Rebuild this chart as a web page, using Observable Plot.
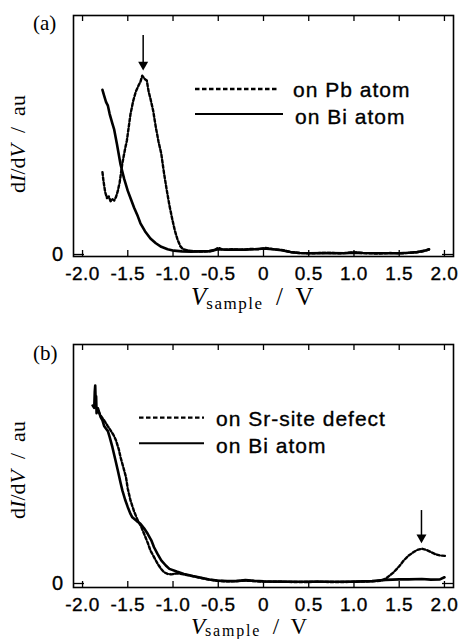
<!DOCTYPE html>
<html>
<head>
<meta charset="utf-8">
<script src="https://cdn.jsdelivr.net/npm/d3@7"></script>
<script src="https://cdn.jsdelivr.net/npm/@observablehq/plot@0.6"></script>
<style>
  html, body { margin: 0; padding: 0; background: #fff; }
  #wrap { position: relative; width: 466px; height: 639px; overflow: hidden; background: #fff; }
  #pa, #pb { position: absolute; left: 0; }
  #pa { top: 0; }
  #pb { top: 320px; }
  #overlay { position: absolute; left: 0; top: 0; pointer-events: none; }
  #pa text, #pb text, #legends text { stroke: #000; stroke-width: 0.35px; }
</style>
</head>
<body>
<div id="wrap">
  <div id="pa"></div>
  <div id="pb"></div>
  <svg id="overlay" width="466" height="639" xmlns="http://www.w3.org/2000/svg">
    <g font-family="'Liberation Serif', 'Times New Roman', serif" fill="#000">
      <text x="33" y="30" font-size="21">(a)</text>
      <text x="33" y="360" font-size="21">(b)</text>
      <text transform="translate(24.5,144) rotate(-90)" text-anchor="middle" font-size="22">d<tspan font-style="italic">I</tspan>/d<tspan font-style="italic">V</tspan>&#160;&#160;/&#160;&#160;au</text>
      <text transform="translate(24.5,470) rotate(-90)" text-anchor="middle" font-size="22">d<tspan font-style="italic">I</tspan>/d<tspan font-style="italic">V</tspan>&#160;&#160;/&#160;&#160;au</text>
      <text x="191" y="305" font-size="25"><tspan font-style="italic">V</tspan><tspan font-size="17" dy="4" letter-spacing="1.5">sample</tspan><tspan dy="-4">&#160;&#160;/&#160;&#160;V</tspan></text>
      <text x="191" y="634" font-size="23"><tspan font-style="italic">V</tspan><tspan font-size="16" dy="2" letter-spacing="1.8">sample</tspan><tspan dy="-2">&#160;&#160;/&#160;&#160;V</tspan></text>
    </g>
    <g id="legends" font-family="'Liberation Sans', Arial, sans-serif" font-size="21" letter-spacing="1" fill="#000"></g>
  </svg>
</div>
<script>
// ---------- data ----------
const xTicks = [-2.0, -1.5, -1.0, -0.5, 0, 0.5, 1.0, 1.5, 2.0];
const yTicks = [0];

const seriesA = ["on Pb atom", "on Bi atom"];
const seriesB = ["on Sr-site defect", "on Bi atom"];

// panel (a): on Pb atom (dashed) [V, dI/dV]
const aPb = [
  [-1.78,3.43],[-1.77,3.10],[-1.75,2.60],[-1.73,2.35],[-1.71,2.42],[-1.69,2.22],[-1.67,2.30],
  [-1.65,2.25],[-1.63,2.40],[-1.61,2.65],[-1.59,3.00],[-1.56,3.80],[-1.53,4.40],[-1.51,4.75],
  [-1.49,5.30],[-1.47,5.85],[-1.44,6.40],[-1.41,6.80],[-1.38,7.05],[-1.36,7.20],[-1.34,7.45],
  [-1.31,7.30],[-1.29,7.25],[-1.27,6.80],[-1.25,6.50],[-1.22,6.00],[-1.19,5.30],[-1.16,4.70],
  [-1.13,4.20],[-1.10,3.40],[-1.07,2.70],[-1.04,2.05],[-1.01,1.50],[-0.98,1.00],[-0.95,0.62],
  [-0.92,0.35],[-0.89,0.22],[-0.85,0.18],[-0.80,0.15],[-0.70,0.12],[-0.60,0.13],[-0.55,0.16],
  [-0.50,0.28],[-0.45,0.20],[-0.35,0.22],[-0.25,0.20],[-0.15,0.23],[-0.05,0.22],[0.02,0.27],
  [0.10,0.23],[0.20,0.19],[0.30,0.10],[0.40,0.06],[0.55,0.05],[0.70,0.07],[0.85,0.05],
  [1.00,0.09],[1.10,0.06],[1.25,0.04],[1.40,0.06],[1.55,0.05],[1.65,0.08],[1.75,0.12],[1.83,0.21]
];
// panel (a): on Bi atom (solid)
const aBi = [
  [-1.78,6.86],[-1.76,6.60],[-1.74,6.35],[-1.72,6.20],[-1.70,5.85],[-1.67,5.45],[-1.65,5.20],
  [-1.62,4.60],[-1.58,3.75],[-1.54,3.15],[-1.50,2.65],[-1.46,2.25],[-1.43,1.95],[-1.39,1.60],
  [-1.36,1.30],[-1.31,0.97],[-1.25,0.67],[-1.19,0.47],[-1.13,0.32],[-1.06,0.22],[-0.99,0.16],
  [-0.90,0.13],[-0.80,0.12],[-0.70,0.13],[-0.60,0.14],[-0.50,0.22],[-0.40,0.20],[-0.30,0.21],
  [-0.20,0.20],[-0.10,0.22],[0.00,0.25],[0.10,0.22],[0.20,0.18],[0.30,0.10],[0.40,0.06],
  [0.50,0.05],[0.70,0.06],[0.90,0.05],[1.00,0.08],[1.10,0.06],[1.30,0.05],[1.50,0.05],
  [1.60,0.07],[1.70,0.10],[1.80,0.18],[1.83,0.22]
];
// panel (b): on Sr-site defect (dashed)
const bSr = [
  [-1.89,7.42],[-1.87,7.30],[-1.85,7.35],[-1.83,7.20],[-1.80,7.00],[-1.76,6.79],[-1.72,6.55],
  [-1.69,6.38],[-1.66,6.20],[-1.63,5.96],[-1.60,5.60],[-1.58,5.26],[-1.55,4.85],[-1.52,4.43],
  [-1.50,3.95],[-1.47,3.46],[-1.43,3.00],[-1.39,2.63],[-1.35,2.35],[-1.32,2.07],[-1.28,1.70],
  [-1.25,1.38],[-1.21,1.10],[-1.17,0.82],[-1.13,0.60],[-1.10,0.47],[-1.06,0.40],[-1.02,0.38],
  [-0.96,0.42],[-0.88,0.38],[-0.78,0.30],[-0.69,0.23],[-0.60,0.16],[-0.50,0.11],[-0.40,0.09],
  [-0.30,0.10],[-0.20,0.12],[-0.10,0.10],[0.00,0.08],[0.20,0.07],[0.40,0.06],[0.60,0.07],
  [0.80,0.06],[1.00,0.07],[1.20,0.09],[1.30,0.12],[1.35,0.20],[1.40,0.35],[1.44,0.47],
  [1.50,0.72],[1.55,0.96],[1.60,1.15],[1.66,1.31],[1.70,1.40],[1.75,1.45],[1.80,1.40],
  [1.85,1.31],[1.90,1.22],[1.95,1.17],[2.01,1.15]
];
// panel (b): on Bi atom (solid)
const bBi = [
  [-1.87,7.40],[-1.865,8.00],[-1.86,8.25],[-1.855,7.60],[-1.85,7.80],[-1.845,7.10],[-1.83,7.30],
  [-1.80,6.93],[-1.78,6.80],[-1.76,6.55],[-1.72,6.35],[-1.70,6.10],[-1.67,5.68],[-1.64,5.20],
  [-1.61,4.71],[-1.58,4.20],[-1.56,3.88],[-1.53,3.50],[-1.50,3.18],[-1.47,2.90],[-1.45,2.76],
  [-1.40,2.60],[-1.36,2.49],[-1.32,2.30],[-1.28,2.07],[-1.24,1.80],[-1.21,1.51],[-1.17,1.22],
  [-1.13,0.96],[-1.08,0.75],[-1.04,0.61],[-0.96,0.50],[-0.88,0.40],[-0.78,0.31],[-0.69,0.24],
  [-0.60,0.17],[-0.51,0.12],[-0.40,0.10],[-0.30,0.10],[-0.20,0.14],[-0.10,0.11],[0.00,0.09],
  [0.20,0.08],[0.40,0.07],[0.60,0.08],[0.80,0.07],[1.00,0.08],[1.20,0.10],[1.35,0.15],
  [1.50,0.17],[1.60,0.17],[1.75,0.19],[1.85,0.16],[1.95,0.17],[2.00,0.26]
];
// peak-marker arrows: x position, shaft start/end, arrow-head centre
const arrowA = [{x: -1.33, y1: 9.12, y2: 7.95, yHead: 7.91}];
const arrowB = [{x: 1.746, y1: 3.04, y2: 1.95, yHead: 1.92}];

// ---------- plotting ----------
const fmt = d => d === 0 ? "0" : d.toFixed(1);
const style = {fontFamily: "'Liberation Sans', Arial, sans-serif", fontSize: "19px", letterSpacing: "0.5px", color: "#000", background: "transparent", overflow: "visible"};

function panel({height, marginTop, marginBottom, yDomain, dashed, solid, arrow}) {
  const marginLeft = 73, marginRight = 13, width = 466;
  const fh = height - marginTop - marginBottom;
  const fw = width - marginLeft - marginRight;
  return Plot.plot({
    width, height, marginLeft, marginRight, marginTop, marginBottom,
    style,
    x: {domain: [-2.1, 2.1]},
    y: {domain: yDomain},
    marks: [
      Plot.line(solid, {x: d => d[0], y: d => d[1], stroke: "#000", strokeWidth: 2.6, strokeLinejoin: "round"}),
      Plot.line(dashed, {x: d => d[0], y: d => d[1], stroke: "#000", strokeWidth: 2.4, strokeDasharray: "3,2.2"}),
      Plot.ruleX(arrow, {x: "x", y1: "y1", y2: "y2", stroke: "#000", strokeWidth: 1.5}),
      Plot.dot(arrow, {x: "x", y: "yHead", symbol: "triangle", rotate: 180, r: 3.7, fill: "#000", stroke: "none"}),
      Plot.tickX(xTicks, {x: d => d, insetTop: fh - 6, stroke: "#000", strokeWidth: 1.3}),
      Plot.tickX(xTicks, {x: d => d, insetBottom: fh - 6, stroke: "#000", strokeWidth: 1.3}),
      Plot.tickY(yTicks, {y: d => d, insetRight: fw - 11, stroke: "#000", strokeWidth: 1.3}),
      Plot.tickY(yTicks, {y: d => d, insetLeft: fw - 11, stroke: "#000", strokeWidth: 1.3}),
      Plot.axisX(xTicks, {tickSize: 0, tickPadding: 10, tickFormat: fmt, label: null}),
      Plot.axisY(yTicks, {tickSize: 0, tickPadding: 10, tickFormat: fmt, label: null, fontSize: 20}),
      Plot.frame({stroke: "#000", strokeWidth: 1.6})
    ]
  });
}

document.getElementById("pa").append(panel({
  height: 320, marginTop: 15, marginBottom: 64,
  yDomain: [-2 / 24, 239 / 24], dashed: aPb, solid: aBi, arrow: arrowA
}));
document.getElementById("pb").append(panel({
  height: 319, marginTop: 24, marginBottom: 52,
  yDomain: [-4 / 24, 239 / 24], dashed: bSr, solid: bBi, arrow: arrowB
}));

// ---------- legends ----------
const ns = "http://www.w3.org/2000/svg";
const lg = document.getElementById("legends");
function legendItem(x1, x2, ly, tx, ty, label, dash) {
  const l = document.createElementNS(ns, "line");
  l.setAttribute("x1", x1); l.setAttribute("x2", x2);
  l.setAttribute("y1", ly); l.setAttribute("y2", ly);
  l.setAttribute("stroke", "#000");
  l.setAttribute("stroke-width", dash ? 2.3 : 1.9);
  if (dash) l.setAttribute("stroke-dasharray", "4.5,2.5");
  lg.append(l);
  const t = document.createElementNS(ns, "text");
  t.setAttribute("x", tx); t.setAttribute("y", ty);
  t.textContent = label;
  lg.append(t);
}
legendItem(195, 278, 89, 293, 97, seriesA[0], true);
legendItem(195, 283, 114, 295, 123.5, seriesA[1], false);
legendItem(139, 204, 417.7, 216, 426, seriesB[0], true);
legendItem(139, 204, 443.3, 216, 452.5, seriesB[1], false);
</script>
</body>
</html>
